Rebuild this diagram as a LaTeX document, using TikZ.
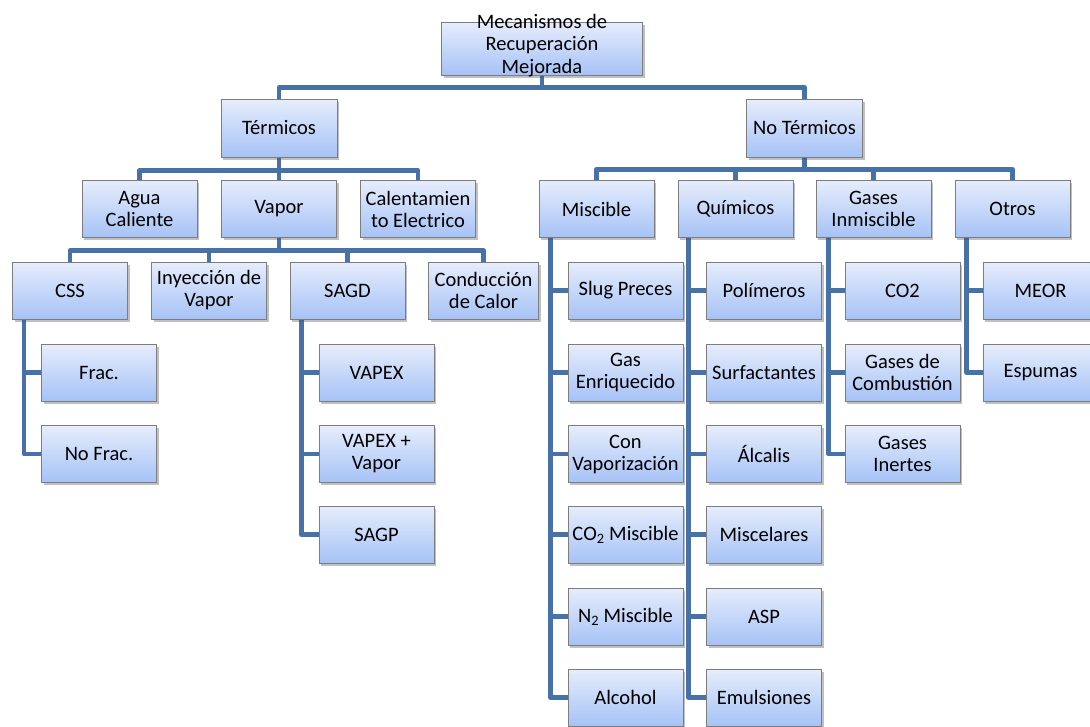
\documentclass[tikz,border=0pt]{standalone}
\usepackage{fontspec}
\setmainfont{Carlito}
\usetikzlibrary{shadows,backgrounds}
\definecolor{conn}{RGB}{70,114,168}
\definecolor{boxtop}{RGB}{230,237,252}
\definecolor{boxbot}{RGB}{166,194,246}
\definecolor{boxedge}{RGB}{125,125,125}
\tikzset{
  box/.style={draw=boxedge, line width=1pt, top color=boxtop, bottom color=boxbot,
    minimum width=115, minimum height=57, inner sep=0pt, align=center,
    font=\fontsize{20.5}{22}\selectfont,
    drop shadow={shadow xshift=2pt, shadow yshift=-2.5pt, opacity=0.35, fill=black!70}},
  link/.style={draw=conn, line width=4.5pt, line join=round},
  lbl/.style={align=center, inner sep=0pt, font=\fontsize{20.5}{22.5}\selectfont},
}
\begin{document}
\begin{tikzpicture}[x=1pt,y=-1pt]
\useasboundingbox (0,0) rectangle (1090,726);
% root
\node[box, minimum width=201, minimum height=53] (root) at (542,48.5) {};
\node[lbl] (rootlbl) at (542,45.5) {Mecanismos de\\Recuperación\\Mejorada};
% level 1
\node[box, minimum width=116, minimum height=58] (term) at (279,128) {Térmicos};
\node[box, minimum width=116, minimum height=58] (noterm) at (804.5,128) {No Térmicos};
% level 2 left
\node[box] (agua) at (139.5,209) {Agua\\Caliente};
\node[box] (vapor) at (279,209) {Vapor};
\node[box] (calent) at (418,209) {Calentamien\\to Electrico};
% level 3 left
\node[box] (css) at (70,290.5) {CSS};
\node[box] (iny) at (209,290.5) {Inyección de\\Vapor};
\node[box] (sagd) at (347.5,290.5) {SAGD};
\node[box, minimum width=110] (cond) at (483.5,290.5) {Conducción\\de Calor};
% CSS children
\node[box] (frac) at (99,372.5) {Frac.};
\node[box] (nofrac) at (99,454) {No Frac.};
% SAGD children
\node[box] (vapex) at (376.5,372.5) {VAPEX};
\node[box] (vapexv) at (376.5,454) {VAPEX +\\Vapor};
\node[box] (sagp) at (376.5,534.5) {SAGP};
% level 2 right
\node[box] (misc) at (596.5,209) {Miscible};
\node[box] (quim) at (735.5,209) {Químicos};
\node[box] (gasin) at (873.5,209) {Gases\\Inmiscible};
\node[box] (otros) at (1012.5,209) {Otros};
% Miscible children
\node[box] (slug) at (625.5,290.5) {Slug Preces};
\node[box] (gasen) at (625.5,372.5) {Gas\\Enriquecido};
\node[box] (convap) at (625.5,454) {Con\\Vaporización};
\node[box] (co2m) at (625.5,534.5) {CO\textsubscript{2} Miscible};
\node[box] (n2m) at (625.5,616.5) {N\textsubscript{2} Miscible};
\node[box] (alcohol) at (625.5,697.5) {Alcohol};
% Quimicos children
\node[box] (poli) at (764,290.5) {Polímeros};
\node[box] (surf) at (764,372.5) {Surfactantes};
\node[box] (alca) at (764,454) {Álcalis};
\node[box] (misce) at (764,534.5) {Miscelares};
\node[box] (asp) at (764,616.5) {ASP};
\node[box] (emul) at (764,697.5) {Emulsiones};
% Gases children
\node[box] (co2) at (902.5,290.5) {CO2};
\node[box] (gcomb) at (902.5,372.5) {Gases de\\Combustión};
\node[box] (ginert) at (902.5,454) {Gases\\Inertes};
% Otros children
\node[box] (meor) at (1040.5,290.5) {MEOR};
\node[box] (espu) at (1040.5,372.5) {Espumas};

\begin{pgfonlayer}{background}
\fill[white] (0,0) rectangle (1090,726);
% root to level 1
\draw[link] (root.south) -- ++(0,12) -| (term.north);
\draw[link] (root.south) -- ++(0,12) -| (noterm.north);
% termicos
\foreach \c in {agua,vapor,calent}
  \draw[link] (term.south) -- ++(0,13) -| (\c.north);
% vapor
\foreach \c in {css,iny,sagd,cond}
  \draw[link] (vapor.south) -- ++(0,12.5) -| (\c.north);
% no termicos
\foreach \c in {misc,quim,gasin,otros}
  \draw[link] (noterm.south) -- ++(0,12) -| (\c.north);
% side branches
\foreach \c in {frac,nofrac}
  \draw[link] ([xshift=12pt]css.south west) |- (\c.west);
\foreach \c in {vapex,vapexv,sagp}
  \draw[link] ([xshift=12pt]sagd.south west) |- (\c.west);
\foreach \c in {slug,gasen,convap,co2m,n2m,alcohol}
  \draw[link] ([xshift=12pt]misc.south west) |- (\c.west);
\foreach \c in {poli,surf,alca,misce,asp,emul}
  \draw[link] ([xshift=11pt]quim.south west) |- (\c.west);
\foreach \c in {co2,gcomb,ginert}
  \draw[link] ([xshift=13pt]gasin.south west) |- (\c.west);
\foreach \c in {meor,espu}
  \draw[link] ([xshift=12pt]otros.south west) |- (\c.west);
\end{pgfonlayer}
\end{tikzpicture}
\end{document}
